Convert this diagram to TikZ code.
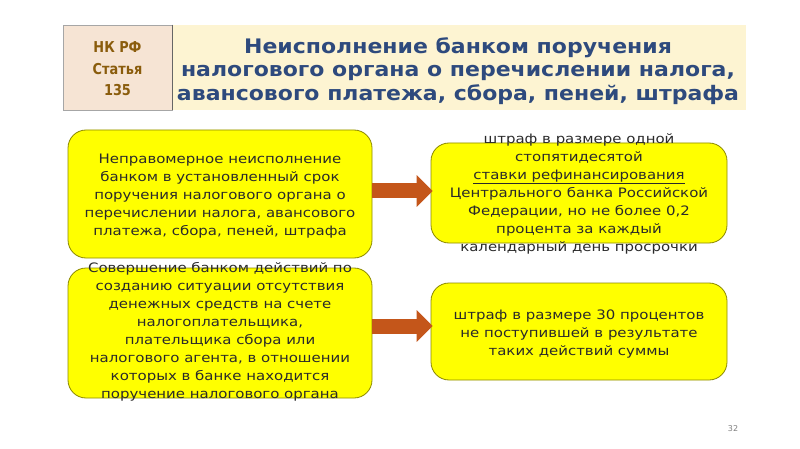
\documentclass[tikz,border=0pt]{standalone}
\usepackage{fontspec}
\setmainfont{DejaVu Sans}
\newfontfamily\headfont[FakeStretch=0.86]{DejaVu Sans}
\newfontfamily\titlefont[FakeStretch=1.10]{DejaVu Sans}
\newfontfamily\bodyfont[FakeStretch=1.15]{DejaVu Sans}
\usetikzlibrary{arrows.meta}
\definecolor{hdrL}{HTML}{F6E4D4}
\definecolor{hdrR}{HTML}{FDF4D2}
\definecolor{hdrBlue}{HTML}{2E4A7D}
\definecolor{hdrBrown}{HTML}{8A5C0C}
\definecolor{boxYellow}{HTML}{FFFF00}
\definecolor{boxLine}{HTML}{8C8800}
\definecolor{arrowCol}{HTML}{C4561A}
\definecolor{bodyText}{HTML}{2A2A2A}
\tikzset{
  yellowbox/.style={draw=boxLine, line width=0.8pt, fill=boxYellow, rounded corners=18pt, inner sep=0pt},
  bodytxt/.style={text=bodyText, align=center, font=\bodyfont\fontsize{13}{18}\selectfont, inner sep=0pt},
  blockarrow/.style={draw=arrowCol, line width=15pt, -{Triangle[width=31pt,length=16pt]}},
}
\begin{document}
\begin{tikzpicture}[x=1pt,y=-1pt]
\useasboundingbox[fill=white] (0,0) rectangle (800,449);
% header
\node[draw=gray!70, line width=0.6pt, fill=hdrL, minimum width=109pt, minimum height=85pt, inner sep=0pt] (hl) at (117.5,67.5) {};
\node[text=hdrBrown, align=center, font=\headfont\bfseries\fontsize{15}{21.5}\selectfont] (hlt) at (117.5,69) {НК РФ\\Статья\\135};
\node[fill=hdrR, minimum width=573pt, minimum height=85pt, inner sep=0pt, anchor=west] (hr) at (hl.east) {};
\draw[gray!80!black, line width=0.8pt] (hl.north east) -- (hl.south east);
\node[text=hdrBlue, align=center, font=\titlefont\bfseries\fontsize{20}{23.5}\selectfont] (hrt) at (458,71) {Неисполнение банком поручения\\налогового органа о перечислении налога,\\авансового платежа, сбора, пеней, штрафа};
% boxes
\node[yellowbox, minimum width=304pt, minimum height=128pt] (b1) at (220,194) {};
\node[bodytxt] (t1) at (220,196) {Неправомерное неисполнение\\банком в установленный срок\\поручения налогового органа о\\перечислении налога, авансового\\платежа, сбора, пеней, штрафа};
\node[yellowbox, minimum width=296pt, minimum height=100pt] (b2) at (579,193) {};
\node[bodytxt] (t2) at (579,193.5) {штраф в размере одной\\стопятидесятой\\\underline{ставки рефинансирования}\\Центрального банка Российской\\Федерации, но не более 0,2\\процента за каждый\\календарный день просрочки};
\node[yellowbox, minimum width=304pt, minimum height=130pt] (b3) at (220,333) {};
\node[bodytxt] (t3) at (220,332) {Совершение банком действий по\\созданию ситуации отсутствия\\денежных средств на счете\\налогоплательщика,\\плательщика сбора или\\налогового агента, в отношении\\которых в банке находится\\поручение налогового органа};
\node[yellowbox, minimum width=296pt, minimum height=97pt] (b4) at (579,331.5) {};
\node[bodytxt] (t4) at (579,334) {штраф в размере 30 процентов\\не поступившей в результате\\таких действий суммы};
% arrows
\draw[blockarrow] (b1.east |- 0,191) coordinate (a1s) -- ([xshift=2pt]b2.west |- 0,191) coordinate (a1e);
\draw[blockarrow] (b3.east |- 0,326) coordinate (a2s) -- ([xshift=2pt]b4.west |- 0,326) coordinate (a2e);
% page number
\node[text=gray, font=\fontsize{8}{10}\selectfont] (pg) at (733,429) {32};
\end{tikzpicture}
\end{document}
